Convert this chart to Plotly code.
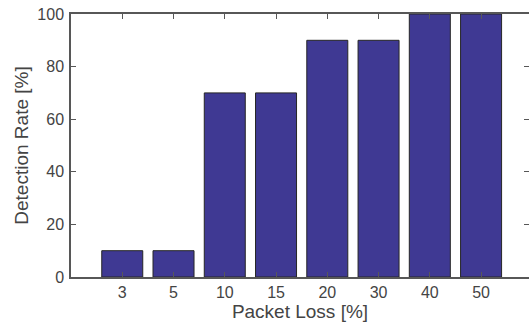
import plotly.graph_objects as go

# Detection rate for each packet-loss level
packet_loss = ["3", "5", "10", "15", "20", "30", "40", "50"]
detection_rate = [10, 10, 70, 70, 90, 90, 100, 100]
y_ticks = [0, 20, 40, 60, 80, 100]

bar_fill = "#3f3993"
bar_edge = "#262626"
axis_grey = "#575757"
text_grey = "#444444"
font_family = "Liberation Sans, Arial, Helvetica, sans-serif"

fig = go.Figure(
    go.Bar(
        x=packet_loss,
        y=detection_rate,
        width=0.8,
        marker=dict(color=bar_fill, line=dict(color=bar_edge, width=1)),
    )
)

axis_common = dict(
    showline=True,
    linecolor=axis_grey,
    linewidth=1.5,
    ticks="inside",
    ticklen=5,
    tickwidth=1.3,
    tickcolor=axis_grey,
    mirror="allticks",
    showgrid=False,
    zeroline=False,
    tickfont=dict(family=font_family, size=16, color=text_grey),
)

fig.update_xaxes(
    type="category",
    categoryorder="array",
    categoryarray=packet_loss,
    range=[-1, 7.935],
    title=dict(text="Packet Loss [%]", font=dict(family=font_family, size=19, color=text_grey), standoff=5),
    ticklabelstandoff=0,
    **axis_common,
)
fig.update_yaxes(
    range=[0, 100],
    tickvals=y_ticks,
    title=dict(text="Detection Rate [%]", font=dict(family=font_family, size=19, color=text_grey), standoff=4),
    ticklabelstandoff=2,
    **axis_common,
)

fig.update_layout(
    width=529,
    height=328,
    margin=dict(l=71, r=0, t=13.5, b=50.5, autoexpand=False),
    plot_bgcolor="white",
    paper_bgcolor="white",
    showlegend=False,
    bargap=0.2,
)

fig.write_html("out.html", config={"displayModeBar": False})
